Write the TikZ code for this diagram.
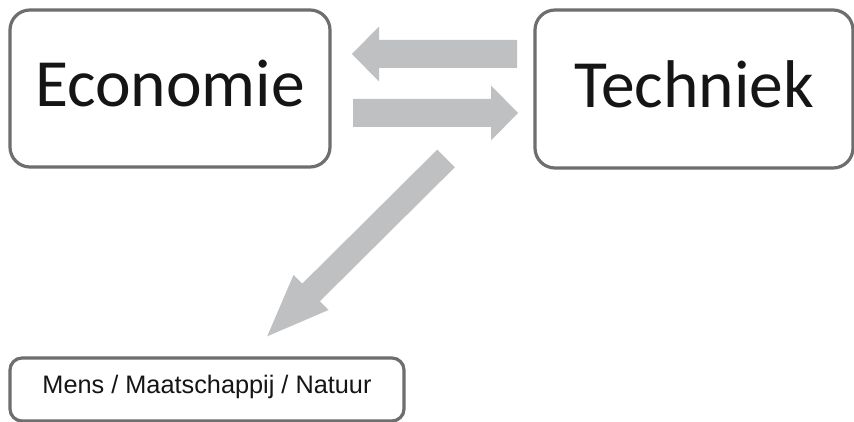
\documentclass[tikz,border=0pt]{standalone}
\usepackage{fontspec}
\setmainfont{Carlito}
\newfontfamily\arialfont{Liberation Sans}
\definecolor{boxline}{HTML}{6E6E6E}
\definecolor{arrowfill}{HTML}{BFC0C1}
\definecolor{inktext}{HTML}{151515}
\begin{document}
\begin{tikzpicture}[x=1pt,y=-1pt,
  bigbox/.style={draw=boxline, line width=3.2pt, rounded corners=20pt, fill=white,
    text=inktext, inner sep=0pt, font=\fontsize{67.5}{72}\selectfont,
    text height=43pt, text depth=6pt},
  smallbox/.style={draw=boxline, line width=3.2pt, rounded corners=12pt, fill=white,
    text=inktext, inner sep=0pt, font=\arialfont\fontsize{25.3}{29}\selectfont,
    text height=18pt, text depth=11pt},
  blockarrow/.style={fill=arrowfill, draw=none}]
\useasboundingbox (0,0) rectangle (854,422);
\clip (0,0) rectangle (854,422);
\fill[white] (0,0) rectangle (854,422);

\node[bigbox, minimum width=320pt, minimum height=157pt] (eco) at (170,88.5) {Economie};
\node[bigbox, minimum width=318pt, minimum height=158pt] (tech) at (694,89) {Techniek};
\node[smallbox, minimum width=394pt, minimum height=63pt] (mens) at (207,389.5) {Mens / Maatschappij / Natuur};

% arrow from Techniek to Economie
\fill[blockarrow] (517,40) -- (379,40) -- (379,26.5) -- (352,54) -- (379,81.5) -- (379,68) -- (517,68) -- cycle;
% arrow from Economie to Techniek
\fill[blockarrow] (353,99) -- (491,99) -- (491,85.5) -- (518,113) -- (491,140.5) -- (491,127) -- (353,127) -- cycle;
% diagonal arrow towards Mens / Maatschappij / Natuur
\fill[blockarrow] (437.2,149.7) -- (454.8,167.3) -- (319.8,301.3) -- (328.5,310) -- (267.2,336.3) -- (293.5,275) -- (302.2,283.7) -- cycle;
\end{tikzpicture}
\end{document}
